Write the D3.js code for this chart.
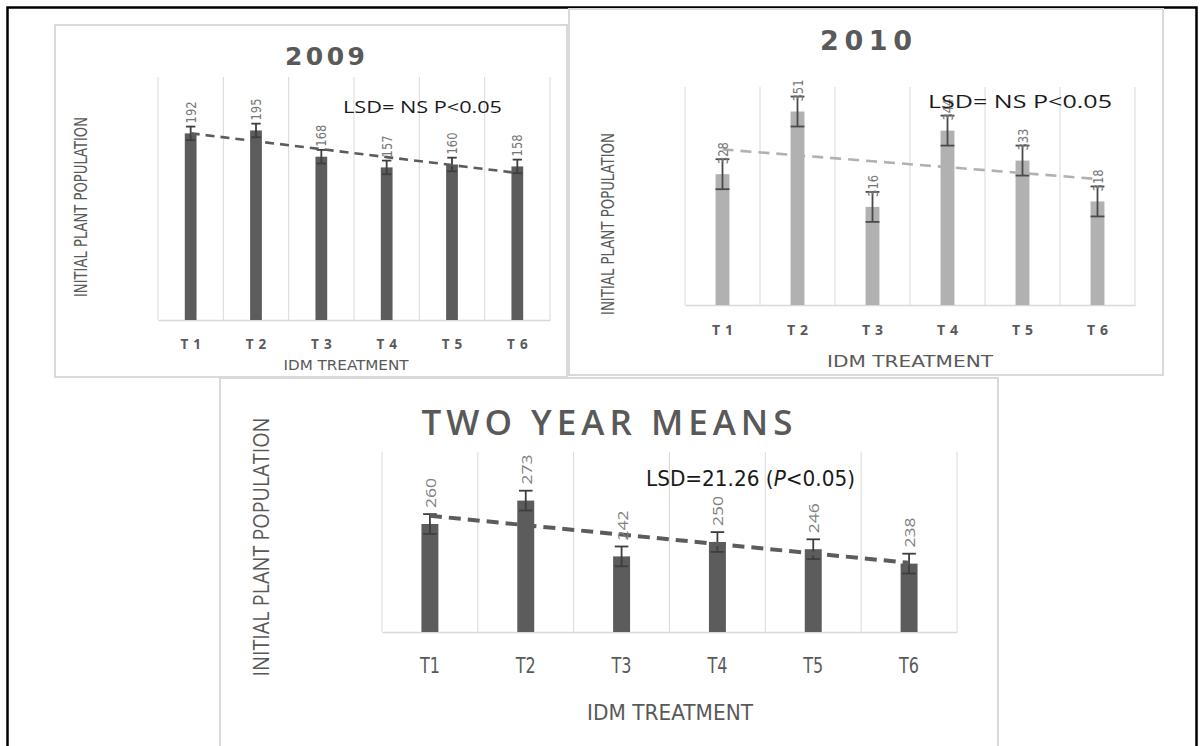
<!DOCTYPE html>
<html>
<head>
<meta charset="utf-8">
<script src="https://cdn.jsdelivr.net/npm/d3@7"></script>
<style>
  html, body { margin: 0; padding: 0; background: #fff; }
  svg { display: block; }
  .narrow { font-family: 'Liberation Sans Narrow', 'DejaVu Sans Condensed', 'Liberation Sans', sans-serif; font-stretch: condensed; }
  .wide { font-family: 'Open Sans', 'DejaVu Sans', sans-serif; }
  .heavy { font-family: 'DejaVu Sans', sans-serif; }
</style>
</head>
<body>
<svg id="chart" width="1204" height="746"></svg>
<script>
// ---- data ----
const categories = ["T1", "T2", "T3", "T4", "T5", "T6"];

const values2009 = [192, 195, 168, 157, 160, 158];
const errors2009 = [7, 7, 7, 7, 7, 7];
const yDomain2009 = [0, 250];

const values2010 = [328, 351, 316, 344, 333, 318];
const errors2010 = [5.5, 5.5, 5.5, 5.5, 5.5, 5.5];
const yDomain2010 = [280, 360];

const valuesMean = [260, 273, 242, 250, 246, 238];
const errorsMean = [5.5, 5.5, 5.5, 5.5, 5.5, 5.5];
const yDomainMean = [200, 300];

const panelTitles = ["2009", "2010", "TWO YEAR MEANS"];
const lsdNotes = [
  [{ t: "LSD= NS P<0.05" }],
  [{ t: "LSD= NS P<0.05" }],
  [{ t: "LSD=21.26 (" }, { t: "P", italic: true }, { t: "<0.05)" }]
];
const yAxisTitle = "INITIAL PLANT POPULATION";
const xAxisTitle = "IDM TREATMENT";

// ---- panel layout and styling ----
const panels = [
  {
    values: values2009, errors: errors2009, domain: yDomain2009, title: panelTitles[0], lsd: lsdNotes[0],
    frame: [55, 25, 567, 377], plot: { x0: 158, x1: 550, y0: 77, y1: 320 },
    barFrac: 0.18, barColor: "#5c5c5c", errColor: "#3e3e3e", capFrac: 0.8,
    trend: { color: "#5c5c5c", width: 2.6, dash: "9,6" },
    titleStyle: { x: 325, y: 65, size: 25, weight: 700, len: 80, cls: "heavy", adjust: "spacing" },
    lsdStyle: { x: 343, y: 113, size: 16, len: 159, cls: "wide", color: "#1a1a1a" },
    yTitleStyle: { x: 80, cy: 207, size: 18, len: 180, cls: "narrow", color: "#595959" },
    tickStyle: { y: 349, size: 13.5, weight: 700, spacing: 5, cls: "wide", color: "#595959" },
    xTitleStyle: { cx: 346, y: 370, size: 14.5, len: 125, cls: "narrow", color: "#595959" },
    labelStyle: { size: 14, offset: 10, len: 22, cls: "narrow", color: "#777777" }
  },
  {
    values: values2010, errors: errors2010, domain: yDomain2010, title: panelTitles[1], lsd: lsdNotes[1],
    frame: [569, 9, 1163, 375], plot: { x0: 685, x1: 1135, y0: 87, y1: 305 },
    barFrac: 0.185, barColor: "#b1b1b1", errColor: "#4a4a4a", capFrac: 1.0,
    trend: { color: "#b1b1b1", width: 2.6, dash: "11,7" },
    titleStyle: { x: 866, y: 50, size: 27, weight: 700, len: 92, cls: "heavy", adjust: "spacing" },
    lsdStyle: { x: 928, y: 108, size: 18.5, len: 184, cls: "wide", color: "#1a1a1a" },
    yTitleStyle: { x: 607, cy: 224, size: 18, len: 182, cls: "narrow", color: "#595959" },
    tickStyle: { y: 335, size: 14, weight: 700, spacing: 5, cls: "wide", color: "#595959" },
    xTitleStyle: { cx: 910, y: 367, size: 16, len: 166, cls: "narrow", color: "#595959" },
    labelStyle: { size: 14.5, offset: 10, len: 22, cls: "narrow", color: "#777777" }
  },
  {
    values: valuesMean, errors: errorsMean, domain: yDomainMean, title: panelTitles[2], lsd: lsdNotes[2],
    frame: [220, 378, 998, 770], plot: { x0: 382, x1: 957, y0: 452, y1: 632 },
    barFrac: 0.177, barColor: "#5c5c5c", errColor: "#3e3e3e", capFrac: 0.8,
    trend: { color: "#5c5c5c", width: 4, dash: "12,7" },
    titleStyle: { x: 607, y: 435, size: 35, weight: 600, len: 371, cls: "wide", adjust: "spacing" },
    lsdStyle: { x: 646, y: 486, size: 21, len: 209, cls: "narrow", color: "#1a1a1a" },
    yTitleStyle: { x: 261, cy: 547, size: 21, len: 259, cls: "wide", color: "#595959" },
    tickStyle: { y: 673, size: 21, weight: 400, spacing: 0, cls: "narrow", color: "#595959", len: 20 },
    xTitleStyle: { cx: 670, y: 720, size: 21, len: 166, cls: "narrow", color: "#595959" },
    labelStyle: { size: 15, offset: 16, len: 30, cls: "wide", color: "#808080" }
  }
];

const svg = d3.select("#chart");

// page border
svg.append("rect")
  .attr("x", 7.5).attr("y", 7.5).attr("width", 1189).attr("height", 800)
  .attr("fill", "none").attr("stroke", "#000").attr("stroke-width", 2.5);

// least-squares line over category index 1..n
function linearFit(vals) {
  const n = vals.length;
  const xs = d3.range(1, n + 1);
  const mx = d3.mean(xs), my = d3.mean(vals);
  const sxy = d3.sum(xs, (x, i) => (x - mx) * (vals[i] - my));
  const sxx = d3.sum(xs, x => (x - mx) * (x - mx));
  const slope = sxy / sxx;
  return xs.map(x => my + slope * (x - mx));
}

function drawPanel(p) {
  const g = svg.append("g");
  const [fx0, fy0, fx1, fy1] = p.frame;

  g.append("rect")
    .attr("x", fx0).attr("y", fy0).attr("width", fx1 - fx0).attr("height", fy1 - fy0)
    .attr("fill", "#fff").attr("stroke", "#d9d9d9").attr("stroke-width", 2);

  const x = d3.scaleBand().domain(categories).range([p.plot.x0, p.plot.x1]).padding(0);
  const y = d3.scaleLinear().domain(p.domain).range([p.plot.y1, p.plot.y0]);
  const bw = x.bandwidth() * p.barFrac;
  const cx = c => x(c) + x.bandwidth() / 2;

  // vertical gridlines at category boundaries
  const bounds = categories.map(c => x(c)).concat([p.plot.x1]);
  g.selectAll(".grid").data(bounds).join("line")
    .attr("x1", d => d).attr("x2", d => d)
    .attr("y1", y(p.domain[1])).attr("y2", y(p.domain[0]))
    .attr("stroke", "#d9d9d9").attr("stroke-width", 1);

  // category axis
  const ts0 = p.tickStyle;
  const axis = g.append("g").attr("transform", `translate(0,${y(p.domain[0])})`)
    .call(d3.axisBottom(x).tickSize(0).tickPadding(0));
  axis.select(".domain").attr("stroke", "#d9d9d9").attr("stroke-width", 1.5);
  const tickText = axis.selectAll(".tick text")
    .attr("class", ts0.cls)
    .attr("y", ts0.y - y(p.domain[0]))
    .attr("dy", 0)
    .attr("dx", ts0.spacing / 2)
    .attr("fill", ts0.color)
    .style("font-size", ts0.size + "px")
    .style("font-weight", ts0.weight)
    .style("letter-spacing", ts0.spacing + "px");
  if (ts0.len) tickText.attr("textLength", ts0.len).attr("lengthAdjust", "spacingAndGlyphs");

  const rows = categories.map((c, i) => ({ c, v: p.values[i], e: p.errors[i] }));

  // bars
  g.selectAll(".bar").data(rows).join("rect")
    .attr("x", d => cx(d.c) - bw / 2).attr("width", bw)
    .attr("y", d => y(d.v)).attr("height", d => y(p.domain[0]) - y(d.v))
    .attr("fill", p.barColor);

  // error bars
  const cap = bw * p.capFrac / 2;
  const eb = g.selectAll(".err").data(rows).join("g").attr("stroke", p.errColor).attr("stroke-width", 1.8);
  eb.append("line").attr("x1", d => cx(d.c)).attr("x2", d => cx(d.c))
    .attr("y1", d => y(d.v + d.e)).attr("y2", d => y(d.v - d.e));
  eb.append("line").attr("x1", d => cx(d.c) - cap).attr("x2", d => cx(d.c) + cap)
    .attr("y1", d => y(d.v + d.e)).attr("y2", d => y(d.v + d.e));
  eb.append("line").attr("x1", d => cx(d.c) - cap).attr("x2", d => cx(d.c) + cap)
    .attr("y1", d => y(d.v - d.e)).attr("y2", d => y(d.v - d.e));

  // linear trendline
  const fit = linearFit(p.values);
  g.append("path")
    .datum(categories.map((c, i) => [cx(c), y(fit[i])]))
    .attr("d", d3.line())
    .attr("fill", "none").attr("stroke", p.trend.color)
    .attr("stroke-width", p.trend.width).attr("stroke-dasharray", p.trend.dash);

  // value labels, rotated
  const ls = p.labelStyle;
  g.selectAll(".lbl").data(rows).join("text")
    .attr("class", ls.cls)
    .attr("transform", d => `translate(${cx(d.c)},${y(d.v) - ls.offset}) rotate(-90)`)
    .attr("dominant-baseline", "central")
    .attr("text-anchor", "start")
    .attr("textLength", ls.len).attr("lengthAdjust", "spacingAndGlyphs")
    .attr("fill", ls.color)
    .style("font-size", ls.size + "px")
    .text(d => d.v);

  // panel title
  const ts = p.titleStyle;
  g.append("text").attr("class", ts.cls)
    .attr("x", ts.x).attr("y", ts.y).attr("text-anchor", "middle")
    .attr("textLength", ts.len).attr("lengthAdjust", ts.adjust)
    .attr("fill", "#595959")
    .style("font-size", ts.size + "px").style("font-weight", ts.weight)
    .text(p.title);

  // LSD note
  const lsd = p.lsdStyle;
  const lt = g.append("text").attr("class", lsd.cls)
    .attr("x", lsd.x).attr("y", lsd.y)
    .attr("textLength", lsd.len).attr("lengthAdjust", "spacingAndGlyphs")
    .attr("fill", lsd.color).style("font-size", lsd.size + "px");
  p.lsd.forEach(part => {
    lt.append("tspan").style("font-style", part.italic ? "italic" : "normal").text(part.t);
  });

  // axis titles
  const yt = p.yTitleStyle;
  g.append("text").attr("class", yt.cls)
    .attr("transform", `translate(${yt.x},${yt.cy}) rotate(-90)`)
    .attr("text-anchor", "middle").attr("dominant-baseline", "central")
    .attr("textLength", yt.len).attr("lengthAdjust", "spacingAndGlyphs")
    .attr("fill", yt.color).style("font-size", yt.size + "px")
    .text(yAxisTitle);

  const xt = p.xTitleStyle;
  g.append("text").attr("class", xt.cls)
    .attr("x", xt.cx).attr("y", xt.y).attr("text-anchor", "middle")
    .attr("textLength", xt.len).attr("lengthAdjust", "spacingAndGlyphs")
    .attr("fill", xt.color).style("font-size", xt.size + "px")
    .text(xAxisTitle);
}

panels.forEach(drawPanel);
</script>
</body>
</html>
